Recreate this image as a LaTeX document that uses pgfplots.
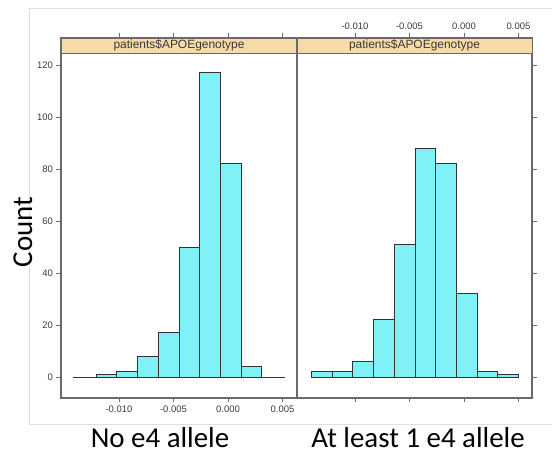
\documentclass[border=0pt]{standalone}
\usepackage{pgfplots}
\pgfplotsset{compat=1.18}
\usepackage{fontspec}
\setmainfont{Liberation Sans}
\newfontfamily\calibri{Carlito}
\definecolor{barCyan}{HTML}{80F1F7}
\definecolor{stripTan}{HTML}{F6DAA8}
\definecolor{frameGray}{HTML}{6A6A6A}
\definecolor{tickText}{HTML}{3A3A3A}
\pgfplotsset{
  panel/.style={
    scale only axis,
    anchor=south west,
    height=360bp,
    ymin=-8.08, ymax=130.4,
    xmin=-0.01532,
    xtick={-0.01,-0.005,0,0.005},
    ytick={0,20,40,60,80,100,120},
    scaled x ticks=false,
    xticklabel style={/pgf/number format/.cd, fixed, fixed zerofill, precision=3},
    /pgf/number format/assume math mode=true,
    tick label style={font=\fontsize{9.5}{10}\selectfont, text=tickText},
    tick align=outside,
    major tick length=4.5bp,
    tick style={draw=frameGray, line width=0.6pt},
    axis line style={draw=frameGray, line width=1.1pt},
    clip=false,
  },
  histbar/.style={ybar interval, fill=barCyan, draw=black!80, line width=0.75pt},
}
\begin{document}
\begin{tikzpicture}
\useasboundingbox (0,0) rectangle (552bp,455bp);
% faint frame of the original slide
\draw[black!13, line width=0.6pt] (552bp,447bp) -- (29bp,447bp) -- (29bp,31bp) -- (552bp,31bp);

\begin{axis}[panel, at={(61bp,57bp)}, width=236bp, xmax=0.00633,
  ytick pos=left, xtick pos=both, xticklabel pos=lower]
  \filldraw[fill=stripTan, draw=frameGray, line width=0.9pt]
    (rel axis cs:0,0.958) rectangle (rel axis cs:1,1);
  \node[font=\fontsize{12}{12}\selectfont, text=tickText] at (rel axis cs:0.5,0.979) {patients\$APOEgenotype};
  \addplot[black!80, line width=0.8pt] coordinates {(-0.0142,0) (0.0052,0)};
  \addplot[histbar] coordinates {
    (-0.0121,1) (-0.0102,2) (-0.0083,8) (-0.0064,17) (-0.0045,50)
    (-0.0026,117) (-0.0007,82) (0.0012,4) (0.0031,0)
  };
\end{axis}

\begin{axis}[panel, at={(297bp,57bp)}, width=235bp, xmax=0.00624,
  ytick pos=right, yticklabels={}, xtick pos=both, xticklabel pos=upper]
  \filldraw[fill=stripTan, draw=frameGray, line width=0.9pt]
    (rel axis cs:0,0.958) rectangle (rel axis cs:1,1);
  \node[font=\fontsize{12}{12}\selectfont, text=tickText] at (rel axis cs:0.5,0.979) {patients\$APOEgenotype};
  \addplot[histbar] coordinates {
    (-0.0140,2) (-0.0121,2) (-0.0102,6) (-0.0083,22) (-0.0064,51)
    (-0.0045,88) (-0.0026,82) (-0.0007,32) (0.0012,2) (0.0031,1) (0.0050,0)
  };
\end{axis}

\node[rotate=90, anchor=base, font=\calibri\fontsize{29}{30}\selectfont] at (32bp,223bp) {Count};
\node[anchor=base, font=\calibri\fontsize{29}{30}\selectfont] at (160bp,8bp) {No e4 allele};
\node[anchor=base, font=\calibri\fontsize{29}{30}\selectfont] at (418bp,8bp) {At least 1 e4 allele};
\end{tikzpicture}
\end{document}
